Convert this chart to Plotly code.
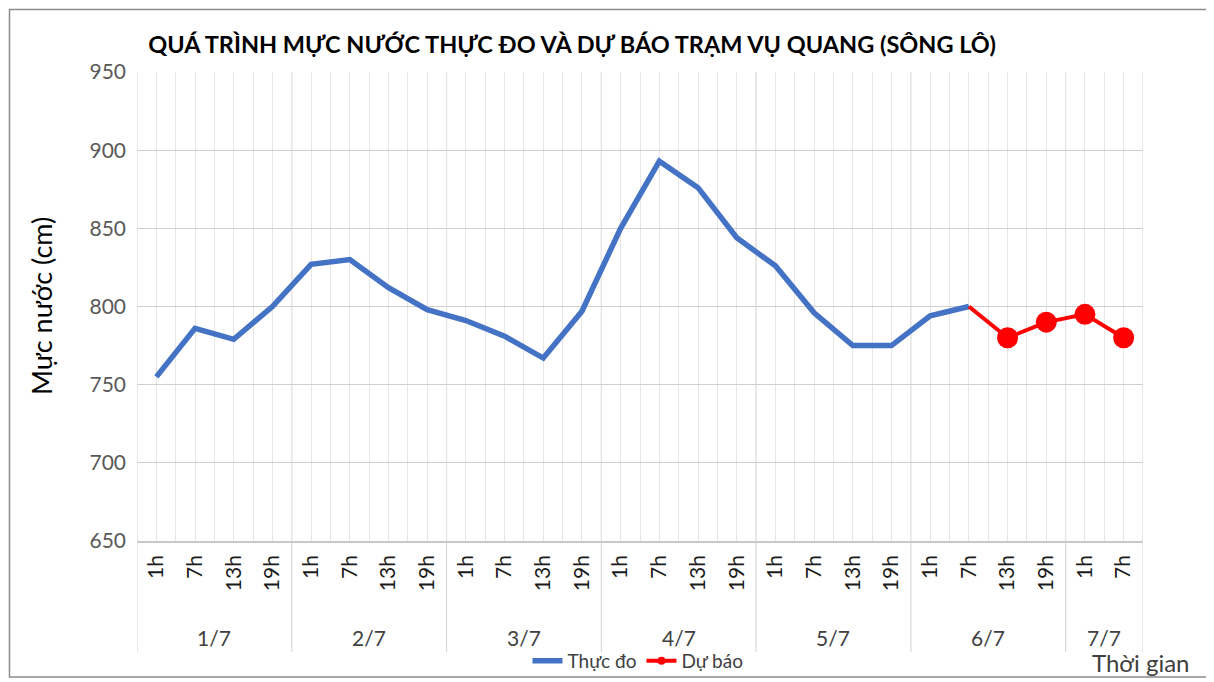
import plotly.graph_objects as go

# ---- data ----
days = ["1/7", "2/7", "3/7", "4/7", "5/7", "6/7", "7/7"]
hours_per_day = [4, 4, 4, 4, 4, 4, 2]
hour_labels = ["1h", "7h", "13h", "19h"] * 6 + ["1h", "7h"]
observed = [755, 786, 779, 800, 827, 830, 812, 798, 791, 781, 767, 797,
            850, 893, 876, 844, 826, 796, 775, 775, 794, 800]
forecast = [800, 780, 790, 795, 780]
forecast_start = 21  # index of 6/7 7h

OFF = 8  # page body margin
W, H = 1214 - OFF, 682 - OFF
L, R, T, B = 137 - OFF, 1143 - OFF, 72 - OFF, 541 - OFF
PW, PH = R - L, B - T

def px(xp):
    return (xp - OFF - L) / PW

def py(yp):
    return (B - (yp - OFF)) / PH

FONT = "Lato"
n = len(hour_labels)
xs = list(range(n))

fig = go.Figure()
fig.add_trace(go.Scatter(
    x=xs[:len(observed)], y=observed, mode="lines", name="Thực đo",
    line=dict(color="#4472C4", width=5.5)))
fx = xs[forecast_start:forecast_start + len(forecast)]
fig.add_trace(go.Scatter(
    x=fx, y=forecast, mode="lines+markers", name="Dự báo", showlegend=False,
    line=dict(color="#FF0000", width=4),
    marker=dict(color="#FF0000", opacity=1, line=dict(width=0),
                size=[0] + [21] * (len(forecast) - 1))))
# legend entry with small marker, like the reference legend
fig.add_trace(go.Scatter(
    x=[None], y=[None], mode="lines+markers", name="Dự báo",
    line=dict(color="#FF0000", width=4),
    marker=dict(color="#FF0000", size=8)))

# day boundaries
bounds = [-0.5]
acc = -0.5
for k in hours_per_day:
    acc += k
    bounds.append(acc)

shapes = []
for b in bounds:
    shapes.append(dict(type="line", xref="x", yref="paper", x0=b, x1=b,
                       y0=py(652), y1=1, line=dict(color="#d9d9d9", width=1.2), layer="below"))
# outer frame
shapes.append(dict(type="rect", xref="paper", yref="paper",
                   x0=px(9.5), x1=px(1208), y0=py(677), y1=py(9.5),
                   line=dict(color="#8c8c8c", width=1.5)))

annotations = []
start = 0
for d, k in zip(days, hours_per_day):
    center = start + (k - 1) / 2
    annotations.append(dict(x=center, xref="x", y=py(637), yref="paper",
                            text=d, showarrow=False,
                            font=dict(family=FONT, size=21, color="#404040"),
                            xanchor="center", yanchor="middle"))
    start += k
annotations.append(dict(x=px(41), xref="paper", y=py(306), yref="paper",
                        text="Mực nước (cm)", textangle=-90, showarrow=False,
                        font=dict(family=FONT, size=27, color="#000000"),
                        xanchor="center", yanchor="middle"))
annotations.append(dict(x=px(1141), xref="paper", y=py(662), yref="paper",
                        text="Thời gian", showarrow=False,
                        font=dict(family=FONT, size=24, color="#404040"),
                        xanchor="center", yanchor="middle"))

fig.update_layout(
    width=W, height=H,
    margin=dict(l=L, r=W - R, t=T, b=H - B, autoexpand=False),
    paper_bgcolor="white", plot_bgcolor="white",
    title=dict(text="<b>QUÁ TRÌNH MỰC NƯỚC THỰC ĐO VÀ DỰ BÁO TRẠM VỤ QUANG (SÔNG LÔ)</b>",
               x=px(572), xref="paper", xanchor="center",
               y=1 - (45 - OFF) / H, yref="container", yanchor="middle",
               font=dict(family=FONT, size=23.5, color="#000000")),
    xaxis=dict(range=[-0.5, n - 0.5], tickmode="array", tickvals=xs, ticktext=hour_labels,
               tickangle=-90, tickfont=dict(family=FONT, size=21, color="#1a1a1a"),
               showgrid=True, gridcolor="#e6e6e6", gridwidth=1,
               minor=dict(tickmode="array", tickvals=bounds + [i + 0.5 for i in xs[:-1]],
                          showgrid=True, gridcolor="#e6e6e6", gridwidth=1),
               showline=True, linecolor="#c8c8c8", linewidth=1.5, ticks="",
               zeroline=False, automargin=False, ticklabelstandoff=4),
    yaxis=dict(range=[650, 950], dtick=50, tick0=650,
               tickfont=dict(family=FONT, size=21, color="#595959"),
               showgrid=True, gridcolor="#cfcfcf", gridwidth=1.2, ticks="",
               zeroline=False, showline=False, ticklabelstandoff=10, automargin=False),
    legend=dict(orientation="h", x=px(638), xanchor="center", y=py(661), yanchor="middle",
                font=dict(family=FONT, size=19, color="#404040"),
                bgcolor="rgba(0,0,0,0)", tracegroupgap=0),
    shapes=shapes, annotations=annotations,
    showlegend=True,
)

fig.write_html("out.html")
